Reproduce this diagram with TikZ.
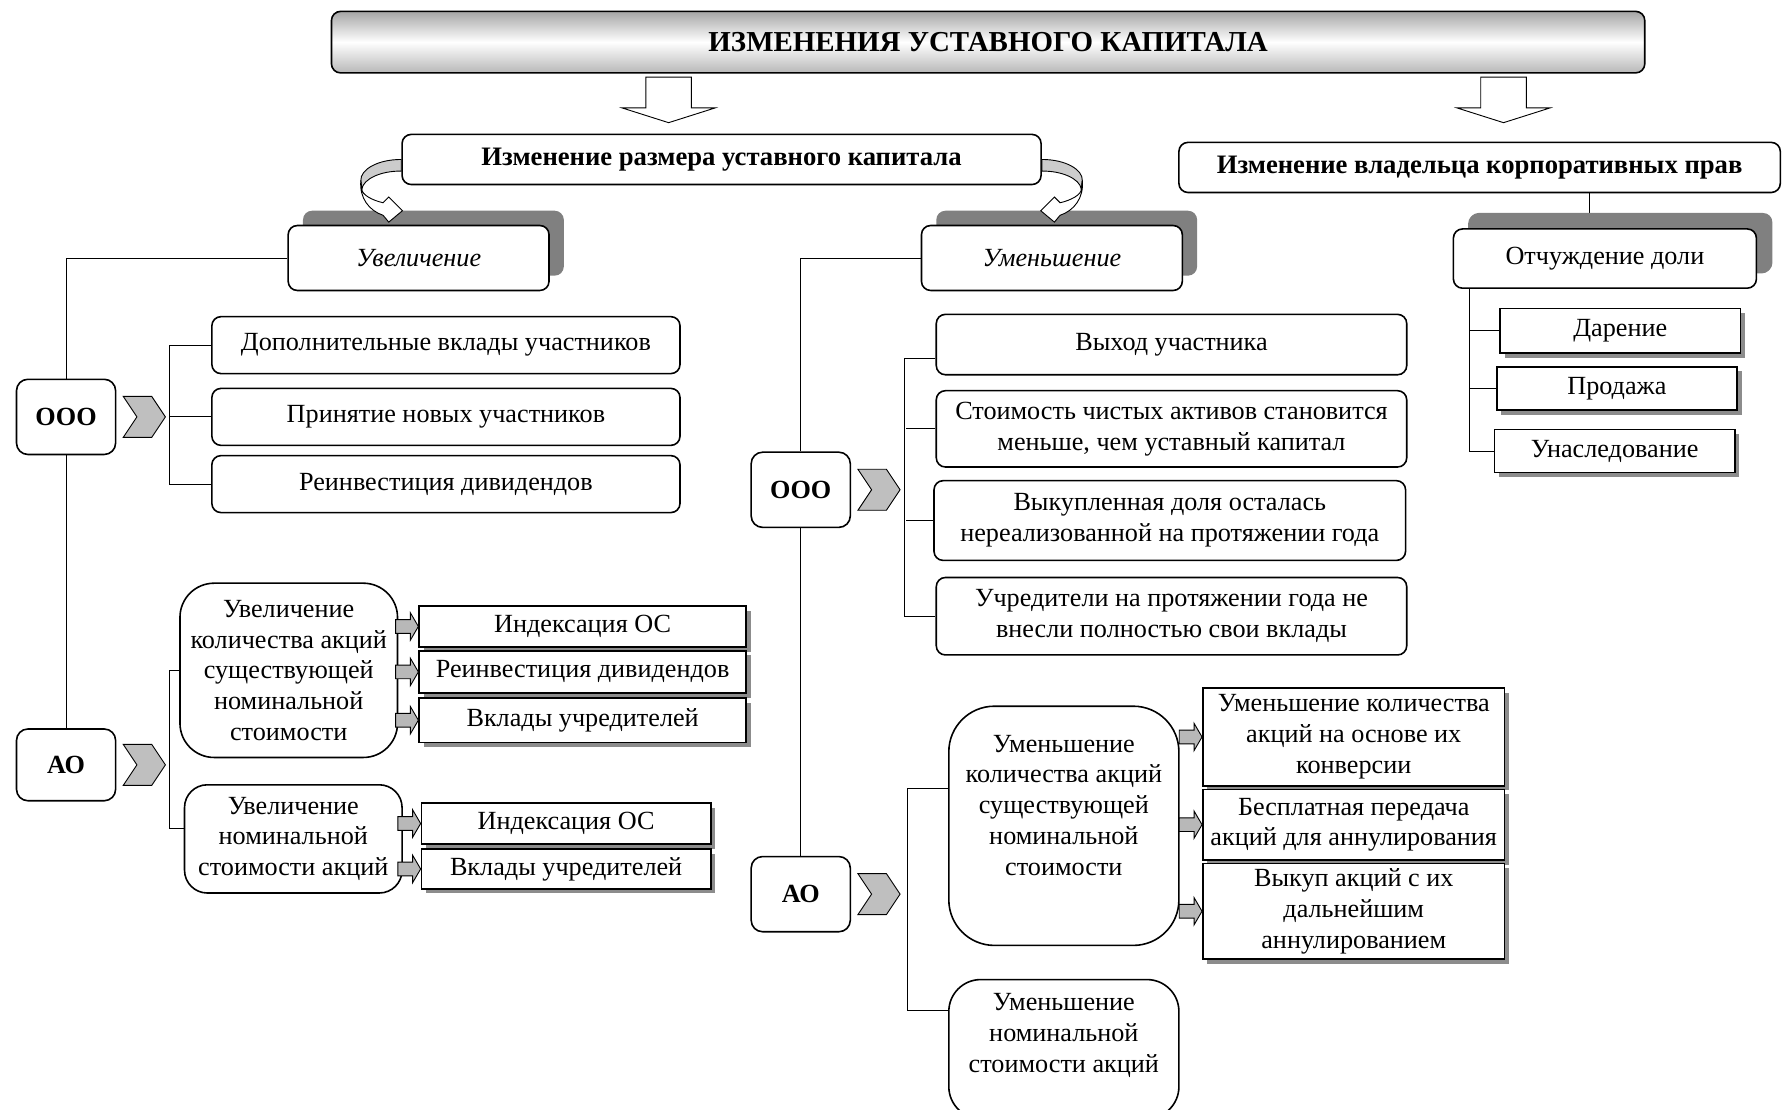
\documentclass[tikz,border=0pt]{standalone}
\usepackage{fontspec}
\setmainfont{Liberation Serif}
\usetikzlibrary{positioning,shadows,calc,backgrounds}
\newcommand{\txt}{\fontsize{11.5}{13.5}\selectfont}
\newcommand{\fatarrow}{\draw[fill=white] (-20,3) -- (20,3) -- (20,30) -- (41,30) -- (0,43) -- (-41,30) -- (-20,30) -- cycle;}
\newcommand{\chevron}{\draw[fill=black!25] (0,-18) -- (25,-18) -- (37,0) -- (25,18) -- (0,18) -- (12,0) -- cycle;}
\newcommand{\smallarrow}{\draw[fill=black!28] (-20,-6) -- (-7,-6) -- (-7,-12) -- (0,0) -- (-7,12) -- (-7,6) -- (-20,6) -- cycle;}
\newcommand{\bentarrow}{\draw[fill=black!20] (0,0) .. controls (-21,0) and (-36,9) .. (-35.5,18.5) -- (-34.6,25.8) .. controls (-33,17) and (-18,10) .. (0,10.2) -- cycle;
	\draw[fill=white] (-35.5,18.5) .. controls (-37,34) and (-28,45) .. (-16,49) -- (-11,55) -- (1,45) -- (-11,33) -- (-16,38) .. controls (-25,36) and (-35,31) .. (-34.6,25.8) -- cycle;}

\begin{document}
\begin{tikzpicture}[x=0.5pt, y=-0.5pt, line width=0.6pt,
	rbox/.style={draw, fill=white, rounded corners=4pt, align=center, inner sep=0pt, line width=0.7pt, font=\txt},
	sbox/.style={draw, fill=white, align=center, inner sep=0pt, line width=0.7pt, font=\txt,
		drop shadow={shadow xshift=2pt, shadow yshift=-2pt, fill=black!45, opacity=1}},
	lbox/.style={rbox, drop shadow={shadow xshift=6.5pt, shadow yshift=6.5pt, fill=black!50, opacity=1}},
	firm/.style={rbox, rounded corners=5pt, font=\txt\bfseries, minimum width=43.5pt, minimum height=33pt}]

	\clip (0,0) rectangle (1568,974);

	% top
	\node[rbox, font=\fontsize{12.7}{15}\selectfont\bfseries, top color=black!35, bottom color=black!28, middle color=white,
		minimum width=576.5pt, minimum height=27pt] (title) at (867.5,37) {ИЗМЕНЕНИЯ УСТАВНОГО КАПИТАЛА};
	\node[rbox, font=\fontsize{11.7}{13.5}\selectfont\bfseries, minimum width=280.5pt, minimum height=22pt] (size) at (633.5,140) {Изменение размера уставного капитала};
	\node[rbox, font=\fontsize{11.7}{13.5}\selectfont\bfseries, minimum width=264pt, minimum height=22pt] (owner) at (1299,147) {Изменение владельца корпоративных прав};

	\node[lbox, font=\txt\itshape, minimum width=114.5pt, minimum height=28.5pt] (inc) at (367.5,226.5) {Увеличение};
	\node[lbox, font=\txt\itshape, minimum width=114.5pt, minimum height=28.5pt] (dec) at (923.5,226.5) {Уменьшение};
	\node[lbox, drop shadow={shadow xshift=7pt, shadow yshift=7pt, fill=black!50, opacity=1},
		minimum width=133pt, minimum height=26pt] (alien) at (1409,227) {Отчуждение доли};

	% increase
	\node[firm] (ooo1) at (58,366) {ООО};
	\node[firm, minimum height=31.5pt] (ao1) at (58,671.5) {АО};
	\node[rbox, minimum width=205.5pt, minimum height=25pt] (d1) at (391.5,303) {Дополнительные вклады участников};
	\node[rbox, minimum width=205.5pt, minimum height=25pt] (d2) at (391.5,366) {Принятие новых участников};
	\node[rbox, minimum width=205.5pt, minimum height=25pt] (d3) at (391.5,425) {Реинвестиция дивидендов};
	\node[rbox, rounded corners=15pt, minimum width=95.5pt, minimum height=76.5pt] (ai1) at (253.5,588.5)
		{Увеличение\\количества акций\\существующей\\номинальной\\стоимости};
	\node[rbox, rounded corners=10pt, minimum width=95.5pt, minimum height=47.5pt] (ai2) at (257.5,736.5)
		{Увеличение\\номинальной\\стоимости акций};
	\node[sbox, minimum width=143.5pt, minimum height=18pt] (ix1) at (511.5,550) {Индексация ОС};
	\node[sbox, minimum width=143.5pt, minimum height=18.5pt, below=1pt of ix1] (ix2) {Реинвестиция дивидендов};
	\node[sbox, minimum width=143.5pt, minimum height=19.5pt, below=1.5pt of ix2] (ix3) {Вклады учредителей};
	\node[sbox, minimum width=127pt, minimum height=18pt] (iy1) at (497,723) {Индексация ОС};
	\node[sbox, minimum width=127pt, minimum height=17.5pt, below=1.5pt of iy1] (iy2) {Вклады учредителей};

	% decrease
	\node[firm] (ooo2) at (703,430) {ООО};
	\node[firm] (ao2) at (703,785) {АО};
	\node[rbox, minimum width=206.5pt, minimum height=26.5pt] (r1) at (1028.5,302.5) {Выход участника};
	\node[rbox, minimum width=206.5pt, minimum height=33.5pt] (r2) at (1028.5,376.5) {Стоимость чистых активов становится\\меньше, чем уставный капитал};
	\node[rbox, minimum width=207pt, minimum height=35pt] (r3) at (1027,457) {Выкупленная доля осталась\\нереализованной на протяжении года};
	\node[rbox, minimum width=206.5pt, minimum height=34pt] (r4) at (1028.5,541) {Учредители на протяжении года не\\внесли полностью свои вклады};
	\node[rbox, rounded corners=20pt, minimum width=101pt, minimum height=105pt] (dq1) at (934,725) {};
	\node[font=\txt, align=center] (dq1t) at ([yshift=9pt]dq1.center) {Уменьшение\\количества акций\\существующей\\номинальной\\стоимости};
	\node[rbox, rounded corners=14pt, minimum width=101pt, minimum height=61pt] (dq2) at (934,921) {};
	\node[font=\txt, align=center] (dq2t) at ([yshift=6pt]dq2.center) {Уменьшение\\номинальной\\стоимости акций};
	\node[sbox, minimum width=132.5pt, minimum height=43pt] (dz1) at (1188.5,647) {Уменьшение количества\\акций на основе их\\конверсии};
	\node[sbox, minimum width=132.5pt, minimum height=31pt] (dz2) at (1188.5,724) {Бесплатная передача\\акций для аннулирования};
	\node[sbox, minimum width=132.5pt, minimum height=42pt] (dz3) at (1188.5,800) {Выкуп акций с их\\дальнейшим\\аннулированием};

	% owner
	\node[sbox, minimum width=105.5pt, minimum height=19.5pt] (g1) at (1422.5,290.5) {Дарение};
	\node[sbox, minimum width=105.5pt, minimum height=19pt] (g2) at (1419.5,341) {Продажа};
	\node[sbox, minimum width=105.5pt, minimum height=19pt] (g3) at (1417.5,396) {Унаследование};

	% lines
	\coordinate (b1) at (149,0);
	\coordinate (b2) at (795,0);
	\coordinate (b4) at (1290,0);
	\coordinate (b5) at (1395,0);
	\coordinate (f1) at (587,0);
	\coordinate (f2) at (1320,0);
	\begin{pgfonlayer}{background}
		\draw (inc.west) -| (ooo1.north);
		\draw (ooo1.south) -- (ao1.north);
		\draw (d1.west) -- (d1.west -| b1) |- (d3.west);
		\draw (d2.west) -- (d2.west -| b1);
		\draw (ai1.west) -- (ai1.west -| b1) |- ([yshift=4.5pt]ai2.west);

		\draw (dec.west) -| (ooo2.north);
		\draw (ooo2.south) -- (ao2.north);
		\draw ([yshift=-6pt]r1.west) -- ++(-27,0) |- (r4.west);
		\draw (r2.west) -- (r2.west -| b2);
		\draw (r3.west) -- (r3.west -| b2);
		\draw ([yshift=16.5pt]dq1.west) -- ++(-36,0) |- ([yshift=17pt]dq2.west);

		\draw (owner.south -| b5) -- (alien.north -| b5);
		\draw (alien.south -| b4) |- (g3.west);
		\draw (g1.west) -- (g1.west -| b4);
		\draw (g2.west) -- (g2.west -| b4);
	\end{pgfonlayer}

	% arrows
	\begin{scope}[shift={(title.south -| f1)}]
		\fatarrow
	\end{scope}
	\begin{scope}[shift={(title.south -| f2)}]
		\fatarrow
	\end{scope}
	\begin{scope}[shift={(size.west)}]
		\bentarrow
	\end{scope}
	\begin{scope}[shift={(size.east)}, xscale=-1]
		\bentarrow
	\end{scope}
	\foreach \n in {ooo1,ao1,ooo2,ao2}{
		\begin{scope}[shift={($(\n.east)+(6,0)$)}]
			\chevron
		\end{scope}
	}
	\foreach \n in {ix1,ix2,ix3,iy1,iy2,dz1,dz2,dz3}{
		\begin{scope}[shift={(\n.west)}]
			\smallarrow
		\end{scope}
	}

\end{tikzpicture}
\end{document}
